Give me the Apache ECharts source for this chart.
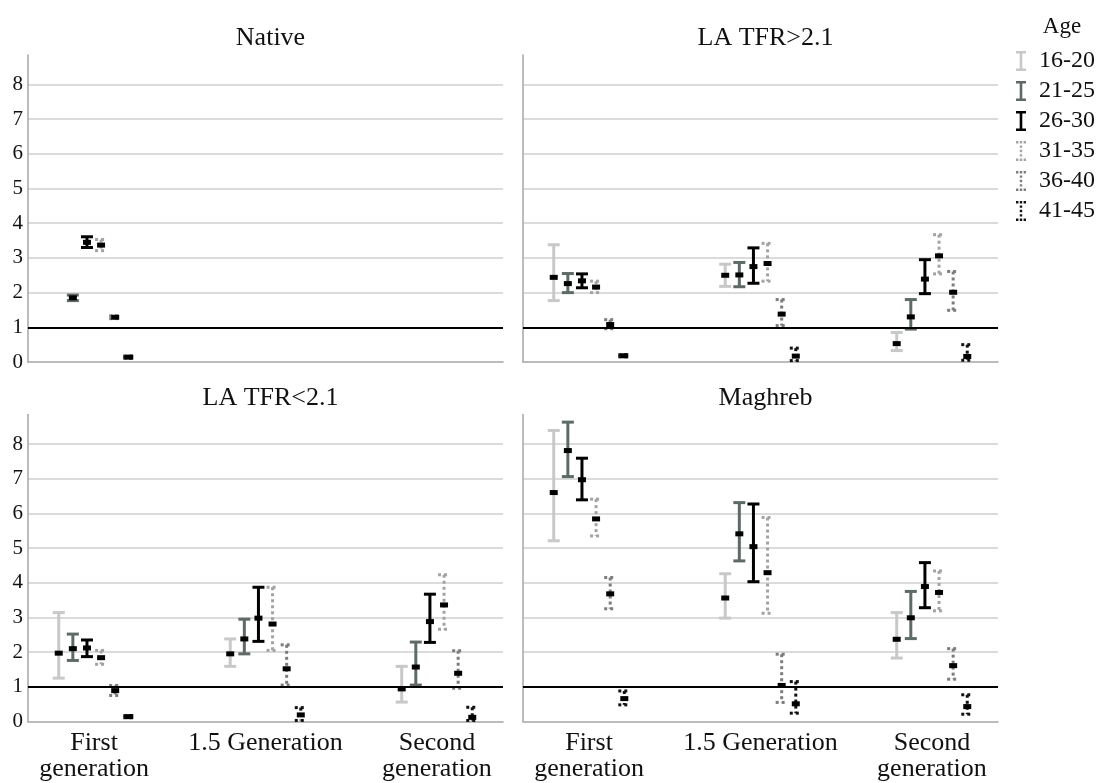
<!DOCTYPE html>
<html>
<head>
<meta charset="utf-8">
<script src="https://cdn.jsdelivr.net/npm/echarts@6/dist/echarts.min.js"></script>
<style>
html,body{margin:0;padding:0;background:#fff;}
#chart{width:1104px;height:783px;}
</style>
</head>
<body>
<div id="chart"></div>
<script>
// ---- Data ----
const categories = ['First\ngeneration', '1.5 Generation', 'Second\ngeneration'];
const ageGroups = ['16-20', '21-25', '26-30', '31-35', '36-40', '41-45'];
const panelTitles = ['Native', 'LA TFR>2.1', 'LA TFR<2.1', 'Maghreb'];
const yTicks = [0, 1, 2, 3, 4, 5, 6, 7, 8];

// rows = age groups, columns = [First, 1.5, Second]
const nativeMean = [[null,null,null],[1.85,null,null],[3.45,null,null],[3.37,null,null],[1.29,null,null],[0.14,null,null]];
const nativeLow  = [[null,null,null],[1.77,null,null],[3.30,null,null],[3.21,null,null],[1.25,null,null],[0.11,null,null]];
const nativeHigh = [[null,null,null],[1.93,null,null],[3.61,null,null],[3.53,null,null],[1.33,null,null],[0.17,null,null]];

const laHighMean = [[2.44,2.50,0.53],[2.26,2.51,1.30],[2.34,2.75,2.39],[2.16,2.84,3.06],[1.08,1.38,2.01],[0.18,0.17,0.16]];
const laHighLow  = [[1.77,2.18,0.33],[2.00,2.17,0.95],[2.14,2.27,1.97],[2.00,2.33,2.54],[0.96,1.05,1.49],[0.15,0.04,0.05]];
const laHighHigh = [[3.38,2.82,0.85],[2.55,2.87,1.80],[2.54,3.29,2.95],[2.33,3.42,3.67],[1.22,1.80,2.61],[0.21,0.40,0.50]];

const laLowMean = [[1.97,1.95,0.94],[2.10,2.38,1.57],[2.12,2.98,2.88],[1.84,2.81,3.36],[0.89,1.52,1.39],[0.14,0.19,0.12]];
const laLowLow  = [[1.25,1.59,0.56],[1.76,1.95,1.05],[1.87,2.31,2.28],[1.65,2.05,2.66],[0.75,1.05,0.96],[0.11,0.03,0.03]];
const laLowHigh = [[3.14,2.38,1.59],[2.52,2.95,2.29],[2.35,3.87,3.67],[2.05,3.87,4.23],[1.04,2.21,2.04],[0.17,0.40,0.41]];

const maghrebMean = [[6.60,3.56,2.37],[7.81,5.41,2.99],[6.97,5.04,3.89],[5.84,4.29,3.72],[3.68,1.04,1.61],[0.66,0.51,0.43]];
const maghrebLow  = [[5.21,2.98,1.83],[7.06,4.63,2.39],[6.39,4.03,3.28],[5.35,3.12,3.19],[3.25,0.55,1.22],[0.48,0.24,0.21]];
const maghrebHigh = [[8.39,4.26,3.14],[8.63,6.31,3.75],[7.59,6.27,4.58],[6.41,5.88,4.34],[4.15,1.94,2.10],[0.88,1.15,0.77]];

const panelMeans = [nativeMean, laHighMean, laLowMean, maghrebMean];
const panelLows  = [nativeLow, laHighLow, laLowLow, maghrebLow];
const panelHighs = [nativeHigh, laHighHigh, laLowHigh, maghrebHigh];

// ---- Styles ----
const FONT = '"Liberation Serif", "Times New Roman", serif';
const ageStyles = [
  {color:'#c8c8c8', dash:null},
  {color:'#5e6a65', dash:null},
  {color:'#000000', dash:null},
  {color:'#a3a3a3', dash:[3,3]},
  {color:'#7c7c7c', dash:[3,3]},
  {color:'#111111', dash:[3,3]}
];
const solidIcon = 'path://M0,0H10V2.4H6.3V17.6H10V20H0V17.6H3.7V2.4H0Z';
const dotIcon = 'path://M0,0h2.4v2.4h-2.4zM3.8,0h2.4v2.4h-2.4zM7.6,0h2.4v2.4h-2.4zM3.8,4.4h2.4v2.4h-2.4zM3.8,8.8h2.4v2.4h-2.4zM3.8,13.2h2.4v2.4h-2.4zM0,17.6h2.4v2.4h-2.4zM3.8,17.6h2.4v2.4h-2.4zM7.6,17.6h2.4v2.4h-2.4z';
const ageStep = 0.0823;

const gridPos = [
  {left:28, top:55, width:475, height:307},
  {left:523, top:55, width:475, height:307},
  {left:28, top:414.5, width:475, height:307},
  {left:523, top:414.5, width:475, height:307}
];
const titlePos = [
  {x:265.5, y:20}, {x:760.5, y:20}, {x:265.5, y:380}, {x:760.5, y:380}
];

const grids = [], xAxes = [], yAxes = [], titles = [], series = [];
for (let p = 0; p < 4; p++) {
  grids.push(Object.assign({containLabel:false}, gridPos[p]));
  titles.push({
    text: panelTitles[p], left: titlePos[p].x, top: titlePos[p].y, textAlign: 'center',
    textStyle: {fontFamily: FONT, fontSize: 26, fontWeight: 'normal', color: '#111'}
  });
  xAxes.push({
    type:'value', gridIndex:p, min:-0.385, max:2.385,
    axisLine:{show:true, onZero:false, lineStyle:{color:'#a6a6a6', width:1.5}},
    axisTick:{show:false}, splitLine:{show:false},
    axisLabel:{
      show: p >= 2, customValues:[0,1,2], margin:9,
      formatter: v => categories[Math.round(v)],
      fontFamily: FONT, fontSize: 26, color:'#111', lineHeight: 26
    }
  });
  yAxes.push({
    type:'value', gridIndex:p, min:0, max:8.85, interval:1,
    axisLine:{show:true, onZero:false, lineStyle:{color:'#a6a6a6', width:1.5}},
    axisTick:{show:false},
    splitLine:{show:true, showMinLine:false, showMaxLine:false, lineStyle:{color:'#cfcfcf', width:1.5}},
    axisLabel:{
      show: p % 2 === 0, margin:5,
      customValues: yTicks,
      fontFamily: FONT, fontSize: 21, color:'#111'
    }
  });
  for (let a = 0; a < ageGroups.length; a++) {
    const data = [];
    for (let g = 0; g < categories.length; g++) {
      const m = panelMeans[p][a][g];
      if (m === null) continue;
      data.push([g + (a - 2.5) * ageStep, m, panelLows[p][a][g], panelHighs[p][a][g]]);
    }
    const st = ageStyles[a];
    const s = {
      type:'custom', name: ageGroups[a], xAxisIndex:p, yAxisIndex:p,
      itemStyle:{color: st.color}, silent:true, z: 3,
      encode:{x:0, y:[1,2,3]},
      data: data,
      renderItem: function (params, api) {
        const x = api.value(0);
        const pM = api.coord([x, api.value(1)]);
        const pL = api.coord([x, api.value(2)]);
        const pH = api.coord([x, api.value(3)]);
        const px = pM[0];
        const ls = {stroke: st.color, lineWidth: 3, lineDash: st.dash || null, fill: null};
        return {
          type:'group',
          children:[
            {type:'line', shape:{x1:px, y1:pH[1], x2:px, y2:pL[1]}, style:ls},
            {type:'line', shape:{x1:px-6, y1:pH[1], x2:px+6, y2:pH[1]}, style:ls},
            {type:'line', shape:{x1:px-6, y1:pL[1], x2:px+6, y2:pL[1]}, style:ls},
            {type:'rect', shape:{x:px-4, y:pM[1]-2.5, width:8, height:5}, style:{fill:'#000'}}
          ]
        };
      }
    };
    if (a === 0) {
      s.markLine = {
        silent:true, symbol:['none','none'], animation:false,
        label:{show:false},
        lineStyle:{color:'#000', width:2, type:'solid'},
        data:[{yAxis:1}]
      };
    }
    series.push(s);
  }
}

titles.push({
  text:'Age', left:1057, top:10, textAlign:'center',
  textStyle:{fontFamily: FONT, fontSize: 23, fontWeight:'normal', color:'#111'}
});

const option = {
  animation:false,
  backgroundColor:'#fff',
  title: titles,
  grid: grids,
  xAxis: xAxes,
  yAxis: yAxes,
  legend: {
    orient:'vertical', left:1016, top:49, padding:0, itemWidth:10, itemHeight:20, itemGap:6,
    selectedMode:false,
    data: ageGroups.map((n, i) => ({name:n, icon: ageStyles[i].dash ? dotIcon : solidIcon})),
    textStyle:{fontFamily: FONT, fontSize: 24, lineHeight: 22, color:'#111', padding:[0,0,0,8]}
  },
  series: series
};

const chart = echarts.init(document.getElementById('chart'), null, {renderer:'canvas'});
chart.setOption(option);
</script>
</body>
</html>
